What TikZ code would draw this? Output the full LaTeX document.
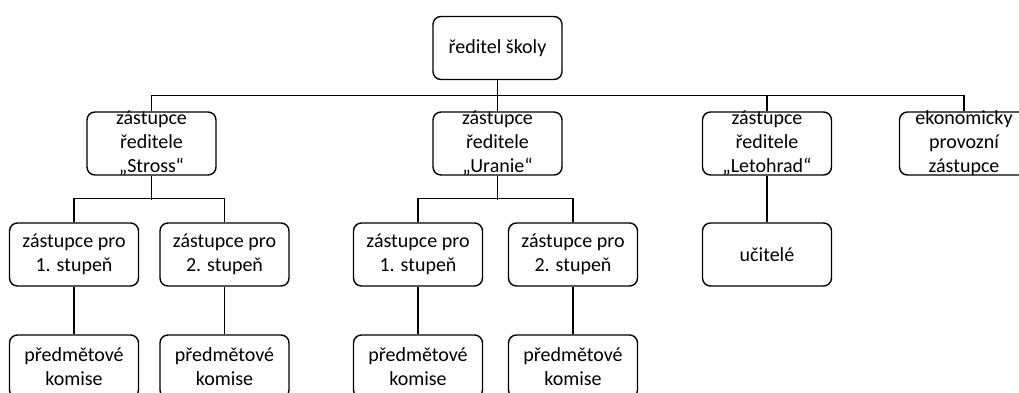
\documentclass[tikz,border=0pt]{standalone}
\usepackage{fontspec}
\setmainfont{Carlito}

\tikzset{
  unit/.style={draw, line width=0.7pt, rounded corners=4pt,
    minimum width=64.5pt, minimum height=31.5pt, inner sep=0pt,
    label={[align=center, inner sep=0pt]center:#1}},
  link/.style={line width=0.7pt}
}

\begin{document}
\begin{tikzpicture}[x=0.5pt, y=-0.5pt, font=\fontsize{10}{12}\selectfont]
  \useasboundingbox (0,0) rectangle (1019,392);

  % top
  \node[unit={ředitel školy}] (dir) at (497.5,48) {};

  % deputies
  \node[unit={zástupce\\ředitele\\„Stross“}]   (stross)   at (151.5,143.5) {};
  \node[unit={zástupce\\ředitele\\„Uranie“}]   (uranie)   at (497.5,143.5) {};
  \node[unit={zástupce\\ředitele\\„Letohrad“}] (letohrad) at (767,143.5) {};
  \node[unit={ekonomicky\\provozní\\zástupce}] (eko)      at (964,143.5) {};

  % second level
  \node[unit={zástupce pro\\1. stupeň}] (s1) at (74,254.5) {};
  \node[unit={zástupce pro\\2. stupeň}] (s2) at (224.5,254.5) {};
  \node[unit={zástupce pro\\1. stupeň}] (u1) at (418,254.5) {};
  \node[unit={zástupce pro\\2. stupeň}] (u2) at (573,254.5) {};
  \node[unit={učitelé}]                 (uc) at (767,254.5) {};

  % commissions
  \node[unit={předmětové\\komise}] (k1) at (74,366.5) {};
  \node[unit={předmětové\\komise}] (k2) at (224.5,366.5) {};
  \node[unit={předmětové\\komise}] (k3) at (418,366.5) {};
  \node[unit={předmětové\\komise}] (k4) at (573,366.5) {};

  % connectors
  \draw[link] (dir) -- (uranie);
  \draw[link] (stross.north) -- ++(0,-16) -| (eko.north);
  \draw[link] (letohrad.north) -- ++(0,-16);

  \draw[link] (stross.south) -- ++(0,24);
  \draw[link] (s1.north) -- ++(0,-24) -| (s2.north);
  \draw[link] (uranie.south) -- ++(0,24);
  \draw[link] (u1.north) -- ++(0,-24) -| (u2.north);
  \draw[link] (letohrad) -- (uc);

  \draw[link] (s1) -- (k1);
  \draw[link] (s2) -- (k2);
  \draw[link] (u1) -- (k3);
  \draw[link] (u2) -- (k4);
\end{tikzpicture}
\end{document}
